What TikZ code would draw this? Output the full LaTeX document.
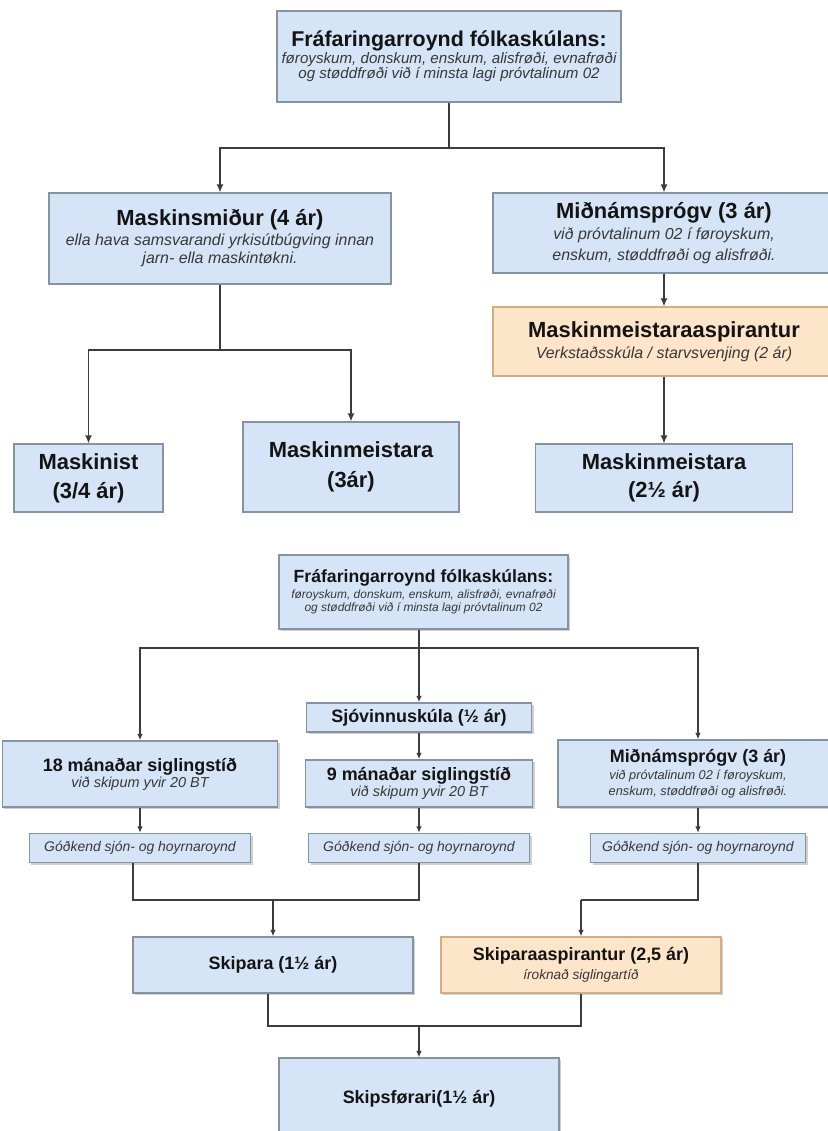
\documentclass[tikz,border=0pt]{standalone}
\usepackage{fontspec}
\setmainfont{Liberation Sans}
\usetikzlibrary{arrows.meta, shadows}

\definecolor{boxblue}{HTML}{D5E5F7}
\definecolor{edgegray}{HTML}{8593A3}
\definecolor{boxorange}{HTML}{FDE5C9}
\definecolor{edgeorange}{HTML}{D2AF80}
\definecolor{linegray}{HTML}{3C3C3C}
\definecolor{subgray}{HTML}{383838}
\definecolor{titleblack}{HTML}{141414}

\newcommand{\boxtitle}[1]{\fontsize{#1}{#1}\selectfont\bfseries}
\newcommand{\boxsub}[1]{\fontsize{#1}{#1}\selectfont\itshape\color{subgray}}

\begin{document}
\begin{tikzpicture}[x=1bp, y=-1bp,
    box/.style={draw=edgegray, fill=boxblue, line width=1.3bp, align=center,
      inner sep=2bp, text=titleblack},
    orbox/.style={box, draw=edgeorange, fill=boxorange},
    shadowed/.style={drop shadow={shadow xshift=2bp, shadow yshift=-2bp,
      opacity=0.3, fill=black!60}},
    link/.style={draw=linegray, line width=1.3bp},
    arrA/.style={link, -{Latex[length=8bp, width=7bp]}},
    arrB/.style={link, -{Latex[length=6.5bp, width=5.5bp]}}]

    \useasboundingbox (0,0) rectangle (828,1131);
    \clip (0,0) rectangle (828,1131);
    \fill[white] (0,0) rectangle (828,1131);

    % Maskinmeistari
    \node[box, minimum width=344bp, minimum height=91bp,
      font=\fontsize{15}{15.5}\selectfont] (top1) at (449,56.5)
      {\boxtitle{21.5}Fráfaringarroynd fólkaskúlans:\\
       \boxsub{15.2}føroyskum, donskum, enskum, alisfrøði, evnafrøði\\
       \boxsub{15.2}og støddfrøði við í minsta lagi próvtalinum 02};

    \node[box, minimum width=342bp, minimum height=91bp,
      font=\fontsize{16}{18}\selectfont] (smid) at (220,238.5)
      {\boxtitle{22}Maskinsmiður (4 ár)\\[2bp]
       \boxsub{16}ella hava samsvarandi yrkisútbúgving innan\\
       \boxsub{16}jarn- ella maskintøkni.};

    \node[box, minimum width=342bp, minimum height=80bp,
      font=\fontsize{16}{21}\selectfont] (midn1) at (664,233)
      {\boxtitle{22}Miðnámsprógv (3 ár)\\
       \boxsub{16}við próvtalinum 02 í føroyskum,\\
       \boxsub{16}enskum, støddfrøði og alisfrøði.};

    \node[orbox, minimum width=342bp, minimum height=69bp,
      font=\fontsize{16}{21}\selectfont] (asp1) at (664,341.5)
      {\boxtitle{22}Maskinmeistaraaspirantur\\
       \boxsub{16}Verkstaðsskúla / starvsvenjing (2 ár)};

    \node[box, minimum width=149bp, minimum height=68bp,
      font=\fontsize{22}{29}\selectfont] (mist) at (88.5,478)
      {\boxtitle{22}Maskinist\\ \boxtitle{22}(3/4 ár)};

    \node[box, minimum width=216bp, minimum height=90bp,
      font=\fontsize{22}{30}\selectfont] (mm3) at (351,467)
      {\boxtitle{22}Maskinmeistara\\ \boxtitle{22}(3ár)};

    \node[box, minimum width=257bp, minimum height=68bp,
      font=\fontsize{22}{28}\selectfont] (mm25) at (664,478)
      {\boxtitle{22}Maskinmeistara\\ \boxtitle{22}(2½ ár)};

    \coordinate (split1) at (449,148);
    \coordinate (split2) at (220,350);
    \draw[link] (top1.south) -- (split1);
    \draw[arrA] (split1) -| (smid.north);
    \draw[arrA] (split1) -| (midn1.north);
    \draw[arrA] (midn1.south) -- (asp1.north);
    \draw[arrA] (asp1.south) -- (mm25.north);
    \draw[link] (smid.south) -- (split2);
    \draw[arrA] (split2) -| (mist.north);
    \draw[arrA] (split2) -| (mm3.north);

    % Skipsførari
    \node[box, shadowed, minimum width=289bp, minimum height=74bp,
      font=\fontsize{12}{13}\selectfont] (top2) at (423.5,592)
      {\boxtitle{17.7}Fráfaringarroynd fólkaskúlans:\\[3bp]
       \boxsub{12}føroyskum, donskum, enskum, alisfrøði, evnafrøði\\
       \boxsub{12}og støddfrøði við í minsta lagi próvtalinum 02};

    \node[box, shadowed, minimum width=275bp, minimum height=66bp,
      font=\fontsize{14}{16}\selectfont] (m18) at (140,774)
      {\boxtitle{18}18 mánaðar siglingstíð\\
       \boxsub{14.5}við skipum yvir 20 BT};

    \node[box, shadowed, minimum width=225bp, minimum height=29bp] (sjo) at (419,717.5)
      {\boxtitle{18}Sjóvinnuskúla (½ ár)};

    \node[box, shadowed, minimum width=227bp, minimum height=47bp,
      font=\fontsize{14}{16}\selectfont] (m9) at (419,783.5)
      {\boxtitle{18}9 mánaðar siglingstíð\\
       \boxsub{14.5}við skipum yvir 20 BT};

    \node[box, shadowed, minimum width=280bp, minimum height=67bp,
      font=\fontsize{13}{16}\selectfont] (midn2) at (698,773.5)
      {\boxtitle{18}Miðnámsprógv (3 ár)\\[1bp]
       \boxsub{12.8}við próvtalinum 02 í føroyskum,\\
       \boxsub{12.8}enskum, støddfrøði og alisfrøði.};

    \node[box, shadowed, minimum width=221bp, minimum height=29bp] (gL) at (140,848)
      {\boxsub{14}Góðkend sjón- og hoyrnaroynd};
    \node[box, shadowed, minimum width=221bp, minimum height=29bp] (gM) at (419,848)
      {\boxsub{14}Góðkend sjón- og hoyrnaroynd};
    \node[box, shadowed, minimum width=215bp, minimum height=29bp] (gR) at (698,848)
      {\boxsub{14}Góðkend sjón- og hoyrnaroynd};

    \node[box, shadowed, minimum width=280bp, minimum height=56bp] (skip) at (273,965)
      {\boxtitle{18}Skipara (1½ ár)};

    \node[orbox, shadowed, minimum width=280bp, minimum height=56bp,
      font=\fontsize{13.7}{19}\selectfont] (asp2) at (581,965)
      {\boxtitle{18}Skiparaaspirantur (2,5 ár)\\
       \boxsub{13.7}íroknað siglingartíð};

    \node[box, shadowed, minimum width=280bp, minimum height=82bp] (skf) at (419,1099)
      {\boxtitle{18}Skipsførari(1½ ár)};

    \coordinate (split3) at (419,648);
    \coordinate (joinL) at (273,900);
    \coordinate (joinR) at (581,900);
    \coordinate (joinF) at (419,1026);
    \draw[link] (top2.south -| split3) -- (split3);
    \draw[arrB] (split3) -| (m18.north);
    \draw[arrB] (split3) -- (sjo.north);
    \draw[arrB] (split3) -| (midn2.north);
    \draw[arrB] (sjo.south) -- (m9.north);
    \draw[arrB] (m18.south) -- (gL.north);
    \draw[arrB] (m9.south) -- (gM.north);
    \draw[arrB] (midn2.south) -- (gR.north);
    \draw[link] ([xshift=-7bp]gL.south) |- (joinL);
    \draw[link] (gM.south) |- (joinL);
    \draw[arrB] (joinL) -- (skip.north);
    \draw[link] (gR.south) |- (joinR);
    \draw[arrB] (joinR) -- (asp2.north);
    \draw[link] ([xshift=-5bp]skip.south) |- (joinF);
    \draw[link] (asp2.south) |- (joinF);
    \draw[arrB] (joinF) -- (skf.north);

\end{tikzpicture}
\end{document}
